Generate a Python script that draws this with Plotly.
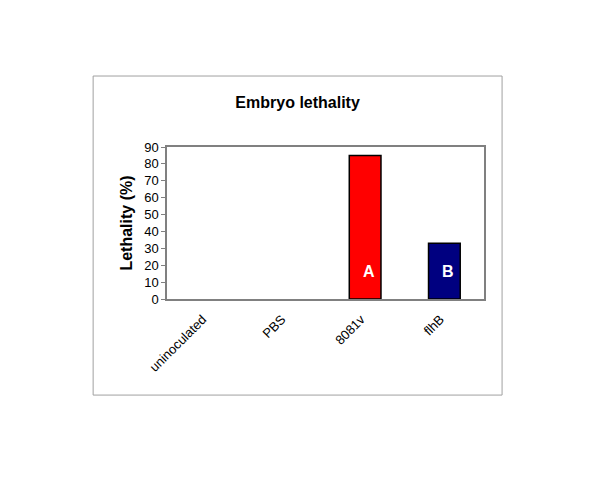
import plotly.graph_objects as go

categories = ["uninoculated", "PBS", "8081v", "flhB"]
lethality = [0, 0, 85, 33]
bar_colors = ["#FF0000", "#FF0000", "#FF0000", "#000080"]
bar_letters = ["", "", "A", "B"]
y_ticks = [0, 10, 20, 30, 40, 50, 60, 70, 80, 90]

line_widths = [1.5 if v > 0 else 0 for v in lethality]

fig = go.Figure()
fig.add_trace(go.Bar(
    x=categories, y=lethality, width=0.4,
    marker=dict(color=bar_colors, line=dict(color="black", width=line_widths)),
    hoverinfo="x+y",
))

for cat, val, letter in zip(categories, lethality, bar_letters):
    if letter:
        fig.add_annotation(x=cat, y=16.3, text="<b>%s</b>" % letter, showarrow=False,
                           xshift=4, font=dict(family="Arial", size=16, color="white"))

fig.add_shape(type="rect", xref="paper", yref="paper",
              x0=-0.233, x1=1.057, y0=-0.632, y1=1.467,
              line=dict(color="#A0A0A0", width=1), fillcolor="rgba(0,0,0,0)")

W, H = 592, 481
fig.update_layout(
    width=W, height=H,
    margin=dict(l=159, r=116, t=139, b=190),
    paper_bgcolor="white", plot_bgcolor="white",
    font=dict(family="Arial", color="black", size=13),
    title=dict(text="<b>Embryo lethality</b>", x=0.412, xref="paper", xanchor="center",
               y=1 - 94/H, yanchor="middle", yref="container",
               font=dict(family="Arial", size=16, color="black")),
    showlegend=False,
    bargap=0.6,
)
fig.update_xaxes(
    showline=True, linecolor="#808080", linewidth=1.5, mirror=True,
    tickangle=-45, ticks="", tickfont=dict(size=13, family="Arial"),
    ticklabelstandoff=6, ticklabelshift=-4,
)
fig.update_yaxes(
    range=[0, 90], tickvals=y_ticks, showgrid=False, zeroline=False,
    showline=True, linecolor="#808080", linewidth=1.5, mirror=True,
    ticks="outside", ticklen=4, tickcolor="#808080",
    tickfont=dict(size=13, family="Arial"),
    title=dict(text="<b>Lethality (%)</b>", font=dict(size=16, family="Arial"), standoff=8),
)

fig.write_html("out.html")
